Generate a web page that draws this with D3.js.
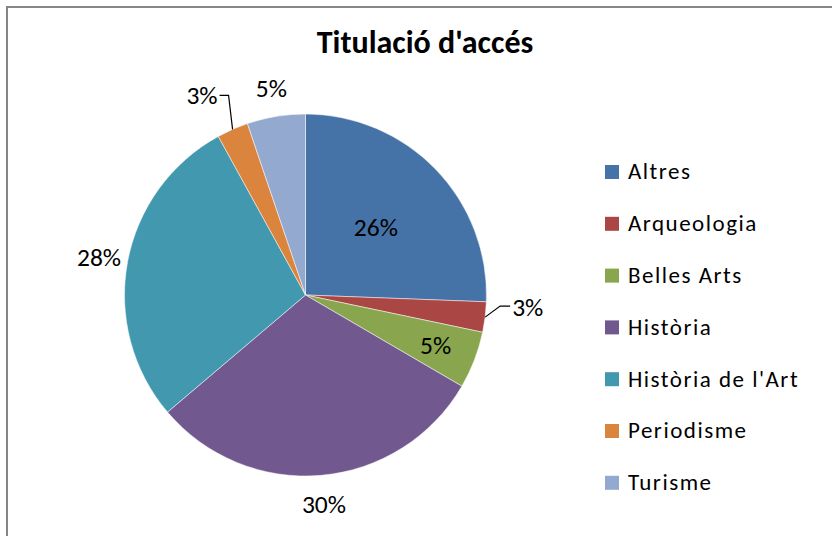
<!DOCTYPE html>
<html><head><meta charset="utf-8">
<script src="https://cdn.jsdelivr.net/npm/d3@7"></script>
<style>
html,body{margin:0;padding:0;background:#fff;}
svg{display:block;}
text{font-family:Carlito,Lato,"Open Sans",sans-serif;}
</style></head>
<body>
<script>
const title = "Titulació d'accés";
const categories = ["Altres","Arqueologia","Belles Arts","Història","Història de l'Art","Periodisme","Turisme"];
const values = [25.6, 2.7, 5.1, 30.4, 28.2, 2.8, 5.2];
const colors = ["#4572A7","#AA4643","#89A54E","#71588F","#4198AF","#DB843D","#93A9CF"];

const W = 832, H = 536;
const svg = d3.select("body").append("svg").attr("width", W).attr("height", H);

// chart border
svg.append("rect").attr("x", 7).attr("y", 7).attr("width", W + 10).attr("height", H + 10)
  .attr("fill", "#fff").attr("stroke", "#868686").attr("stroke-width", 2);

svg.append("text").attr("x", 425).attr("y", 53).attr("text-anchor", "middle")
  .attr("font-size", 32).attr("font-weight", "bold").attr("fill", "#000").text(title);

const cx = 305.5, cy = 295, r = 181;
const g = svg.append("g").attr("transform", `translate(${cx},${cy})`);
const pie = d3.pie().sort(null).value(d => d);
const arcs = pie(values);
const total = d3.sum(values);
const arc = d3.arc().innerRadius(0).outerRadius(r);

g.selectAll("path.slice").data(arcs).enter().append("path")
  .attr("class", "slice").attr("d", arc).attr("fill", (d, i) => colors[i])
  .attr("stroke", "#fff").attr("stroke-width", 0.5);

const pct = d => Math.round(d.value / total * 100) + "%";
const labelMode = ["in", "leaderR", "in", "out", "out", "leaderL", "out"];
const labelRadius = [0.54, 1, 0.77, 1.16, 1.16, 1, 1.16];
const FS = 25.5;

arcs.forEach((d, i) => {
  const mode = labelMode[i];
  const mid = (d.startAngle + d.endAngle) / 2;
  if (mode === "in" || mode === "out") {
    const rr = r * labelRadius[i];
    const x = Math.sin(mid) * rr, y = -Math.cos(mid) * rr;
    g.append("text").attr("x", x).attr("y", y).attr("dy", "0.35em")
      .attr("text-anchor", "middle").attr("font-size", FS).attr("fill", "#000").text(pct(d));
  } else {
    const ex = Math.sin(mid) * r, ey = -Math.cos(mid) * r;
    let pts, tx, ty, anchor;
    if (mode === "leaderR") {
      pts = [[ex, ey], [ex + 15, ey - 11], [ex + 25, ey - 11]];
      tx = ex + 27; ty = ey - 10; anchor = "start";
    } else {
      pts = [[ex, ey], [ex - 4, ey - 34], [ex - 13, ey - 34]];
      tx = ex - 15; ty = ey - 34; anchor = "end";
    }
    g.append("path").attr("d", d3.line()(pts)).attr("fill", "none")
      .attr("stroke", "#000").attr("stroke-width", 1.2);
    g.append("text").attr("x", tx).attr("y", ty).attr("dy", "0.35em")
      .attr("text-anchor", anchor).attr("font-size", FS).attr("fill", "#000").text(pct(d));
  }
});

// legend
const leg = svg.append("g").attr("transform", "translate(605,172)");
const rowH = 51.8;
const items = leg.selectAll("g").data(categories).enter().append("g")
  .attr("transform", (d, i) => `translate(0,${i * rowH})`);
items.append("rect").attr("x", 0).attr("y", -7).attr("width", 14).attr("height", 14)
  .attr("fill", (d, i) => colors[i]);
items.append("text").attr("x", 23).attr("y", 0).attr("dy", "0.32em")
  .attr("font-size", 23).attr("letter-spacing", 1.5).attr("fill", "#000").text(d => d);
</script>
</body></html>
